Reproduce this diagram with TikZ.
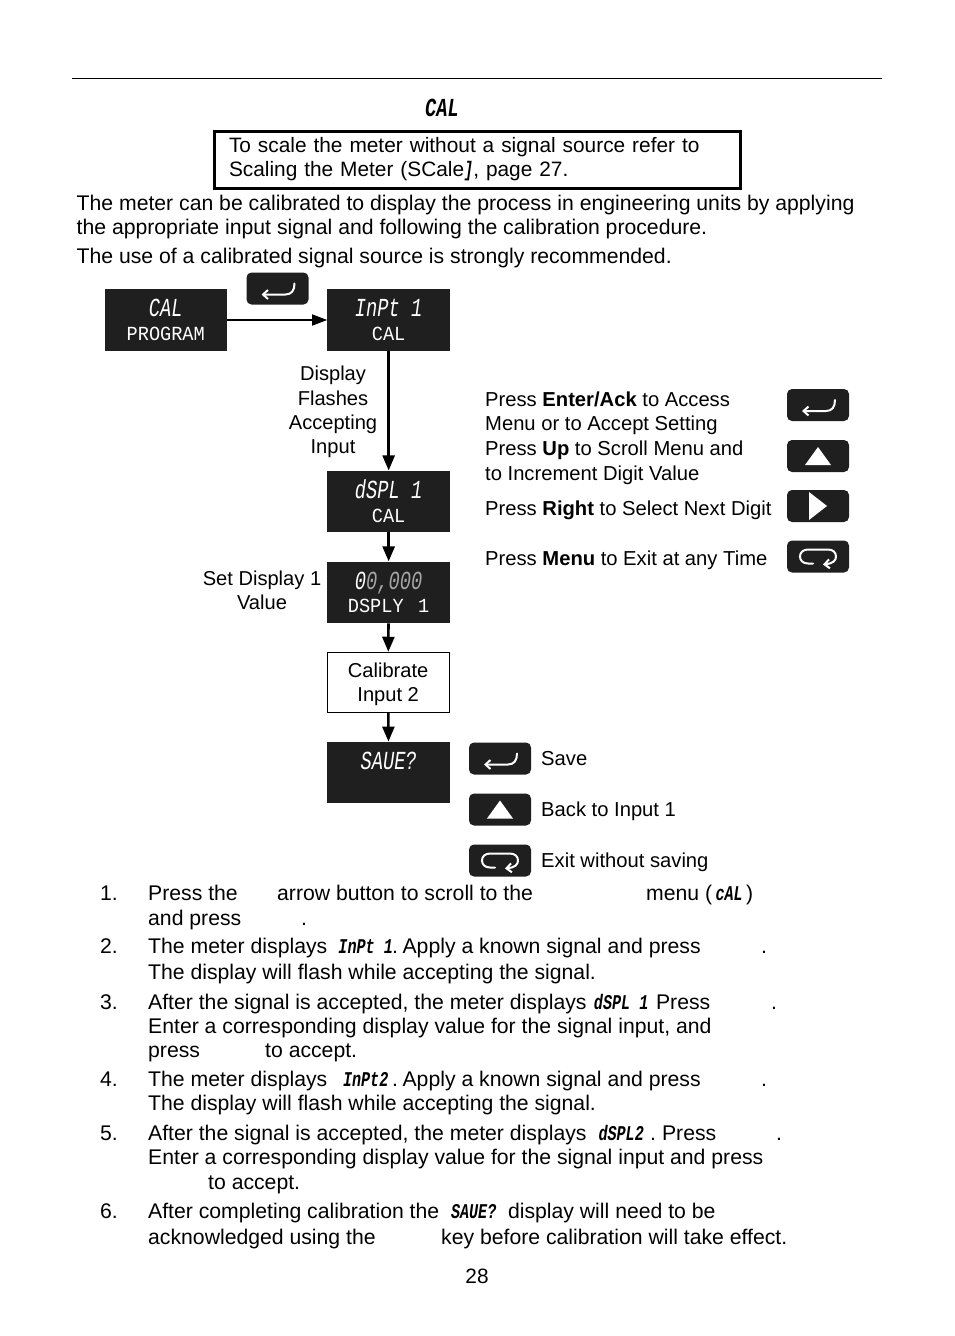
\documentclass[tikz,border=0pt]{standalone}
\usepackage{fontspec}
\setmainfont{Liberation Sans}
\newfontfamily\lcdfont[FakeStretch=0.72]{Liberation Mono}
\newfontfamily\lcdsmall[FakeStretch=0.93]{Liberation Mono}
\usetikzlibrary{arrows.meta,positioning}
\newcommand{\lcdword}[1]{{\lcdfont\itshape\bfseries\fontsize{21}{21}\selectfont #1}}
\newcommand{\lcdfix}[2]{\makebox[#1][c]{\lcdword{#2}}}
\newcommand{\lcdtwo}[2]{{\lcdfont\itshape\fontsize{26}{26}\selectfont #1}\\[-0.5pt]{\lcdsmall\fontsize{20}{20}\selectfont #2}}

\begin{document}
\begin{tikzpicture}[
  x=1pt,y=-1pt,
  font=\fontsize{21.2}{24}\selectfont,
  node distance=28.5pt,
  txt/.style={anchor=base west,inner sep=0pt},
  helptxt/.style={txt,font=\fontsize{20.2}{24}\selectfont},
  lbl/.style={inner sep=0pt,align=center,font=\fontsize{20.1}{24.3}\selectfont},
  display/.style={rectangle,fill=black!88,text=white,inner sep=0pt,align=center,
                  minimum width=122.5pt,minimum height=61.5pt},
  plainbox/.style={rectangle,draw=black,line width=0.8pt,inner sep=0pt,align=center,
                   font=\fontsize{20.1}{24}\selectfont,minimum width=121.5pt,minimum height=60.5pt},
  keybox/.style={rectangle,rounded corners=5pt,fill=black!88,inner sep=0pt,
                 minimum width=62pt,minimum height=32pt},
  flow/.style={-{Triangle[length=15pt,width=12pt]},line width=2.6pt},
  thinflow/.style={-{Triangle[length=15pt,width=11pt]},line width=1.6pt},
  keyline/.style={draw=white,line width=2pt,line cap=round},
  enterglyph/.pic={
    \draw[keyline,{Straight Barb[length=5pt,width=9pt]}-] (-16,6) -- (8,6) .. controls (14,6) and (17,2) .. (17,-5);
  },
  upglyph/.pic={
    \fill[white] (0,-9) -- (13,9) -- (-13,9) -- cycle;
  },
  rightglyph/.pic={
    \fill[white] (-9,-14) -- (9,0) -- (-9,14) -- cycle;
  },
  returnglyph/.pic={
    \draw[keyline] (-5,7) -- (-10,7) .. controls (-15,7) and (-18,4) .. (-18,0)
      .. controls (-18,-4) and (-15,-7) .. (-10,-7) -- (10,-7)
      .. controls (15,-7) and (18,-4) .. (18,0);
    \draw[keyline,-{Straight Barb[length=5pt,width=9pt]}] (18,0) .. controls (18,4) and (15,7) .. (5,8);
  }
]
\useasboundingbox (0,0) rectangle (954,1336);

% ===================== page head =====================
\draw[line width=1pt] (72,78) -- (882,78);
\node[lbl] (headcal) at (442,108) {{\lcdfont\itshape\bfseries\fontsize{26}{26}\selectfont CAL}};
\node[rectangle,draw=black,line width=3pt,inner xsep=15pt,inner ysep=0pt,text width=496pt,
      font=\fontsize{20.85}{24}\selectfont,minimum height=57pt,align=left] (note) at (477,159.5)
  {To scale the meter without a signal source refer to\\Scaling the Meter (SCale\lcdword{]}, page 27.};
\node[txt] (introa) at (76.5,210) {The meter can be calibrated to display the process in engineering units by applying};
\node[txt] (introb) at (76.5,234) {the appropriate input signal and following the calibration procedure.};
\node[txt] (introc) at (76.5,263) {The use of a calibrated signal source is strongly recommended.};

% ===================== flow of displays =====================
\node[display] (calprog) at (165.75,320) {\lcdtwo{CAL}{PROGRAM}};
\node[display,right=100pt of calprog] (inpta) {\lcdtwo{InPt 1}{CAL}};
\node[display,below=119.5pt of inpta] (dspla) {\lcdtwo{dSPL 1}{CAL}};
\node[display,below=29pt of dspla] (dsply) {\lcdtwo{0\textcolor{black!35}{0,000}}{DSPLY \,1}};
\node[plainbox,below=of dsply,xshift=-0.5pt] (calib) {\rule{0pt}{19pt}Calibrate\\Input 2};
\node[display,below=of calib,xshift=0.5pt] (savedisp) {\lcdtwo{SAUE?}{\ }};

\node[keybox] (keytop) at (277.5,288.5) {};
\pic at (keytop) {enterglyph};

\node[lbl] (flashes) at (333,412) {Display\\Flashes\\Accepting\\Input};
\node[lbl] (setval) at (262,590) {Set Display 1\\Value};

% ===================== edges =====================
\draw[thinflow] (calprog) -- (inpta);
\draw[flow] (inpta) -- (dspla);
\draw[flow] (dspla) -- (dsply);
\draw[flow] (dsply) -- (calib);
\draw[flow] (calib) -- (savedisp);

% ===================== key legend =====================
\node[helptxt] (helpa) at (485,406) {Press \textbf{Enter/Ack} to Access};
\node[helptxt] (helpb) at (485,430) {Menu or to Accept Setting};
\node[helptxt] (helpc) at (485,455) {Press \textbf{Up} to Scroll Menu and};
\node[helptxt] (helpd) at (485,480) {to Increment Digit Value};
\node[helptxt] (helpe) at (485,515) {Press \textbf{Right} to Select Next Digit};
\node[helptxt] (helpf) at (485,565) {Press \textbf{Menu} to Exit at any Time};

\node[keybox] (keyenter) at (818,405) {};
\pic at (keyenter) {enterglyph};
\node[keybox] (keyup) at (818,456) {};
\pic at (keyup) {upglyph};
\node[keybox] (keyright) at (818,506) {};
\pic at (keyright) {rightglyph};
\node[keybox] (keymenu) at (818,556.5) {};
\pic at (keymenu) {returnglyph};

% ===================== choices at the save display =====================
\node[keybox] (keysave) at (500,758.5) {};
\pic at (keysave) {enterglyph};
\node[keybox] (keyback) at (500,809.5) {};
\pic at (keyback) {upglyph};
\node[keybox] (keyexit) at (500,860.5) {};
\pic at (keyexit) {returnglyph};
\node[helptxt] (savetxt) at (541,765) {Save};
\node[helptxt] (backtxt) at (541,816) {Back to Input 1};
\node[helptxt] (exittxt) at (541,867) {Exit without saving};

% ===================== numbered steps =====================
\node[txt] (numa) at (100,900) {1.};
\node[txt] (stepaa) at (148,900) {Press the};
\node[txt] (stepab) at (277,900) {arrow button to scroll to the};
\node[txt] (stepac) at (646,900) {menu (\lcdfix{34pt}{cAL})};
\node[txt] (stepad) at (148,925) {and press};
\node[txt] (stepae) at (301,925) {.};

\node[txt] (numb) at (100,953) {2.};
\node[txt] (stepba) at (148,953) {The meter displays};
\node[txt] (stepbd) at (339,953) {\lcdfix{53pt}{InPt 1}.\hspace{4.5pt}Apply a known signal and press};
\node[txt] (stepbb) at (761,953) {.};
\node[txt] (stepbc) at (148,979) {The display will flash while accepting the signal.};

\node[txt] (numc) at (100,1009) {3.};
\node[txt] (stepca) at (148,1009) {After the signal is accepted, the meter displays};
\node[txt] (stepcf) at (592,1009) {\lcdfix{58pt}{dSPL 1}\ Press};
\node[txt] (stepcb) at (771,1009) {.};
\node[txt] (stepcc) at (148,1033) {Enter a corresponding display value for the signal input, and};
\node[txt] (stepcd) at (148,1057) {press};
\node[txt] (stepce) at (265,1057) {to accept.};

\node[txt] (numd) at (100,1086) {4.};
\node[txt] (stepda) at (148,1086) {The meter displays};
\node[txt] (stepdd) at (339,1086) {\lcdfix{53pt}{InPt2}.\hspace{4.5pt}Apply a known signal and press};
\node[txt] (stepdb) at (761,1086) {.};
\node[txt] (stepdc) at (148,1110) {The display will flash while accepting the signal.};

\node[txt] (nume) at (100,1140) {5.};
\node[txt] (stepea) at (148,1140) {After the signal is accepted, the meter displays};
\node[txt] (stepef) at (592,1140) {\lcdfix{58pt}{dSPL2}.\hspace{6pt}Press};
\node[txt] (stepeb) at (776,1140) {.};
\node[txt] (stepec) at (148,1164) {Enter a corresponding display value for the signal input and press};
\node[txt] (steped) at (208,1189) {to accept.};

\node[txt] (numf) at (100,1218) {6.};
\node[txt] (stepfa) at (148,1218) {After completing calibration the};
\node[txt] (stepfd) at (445,1218) {\lcdfix{57pt}{SAUE?}\ display will need to be};
\node[txt] (stepfb) at (148,1244) {acknowledged using the};
\node[txt] (stepfc) at (441,1244) {key before calibration will take effect.};

\node[lbl,font=\fontsize{20.8}{24}\selectfont] (pagenum) at (477,1276) {28};

\end{tikzpicture}
\end{document}
